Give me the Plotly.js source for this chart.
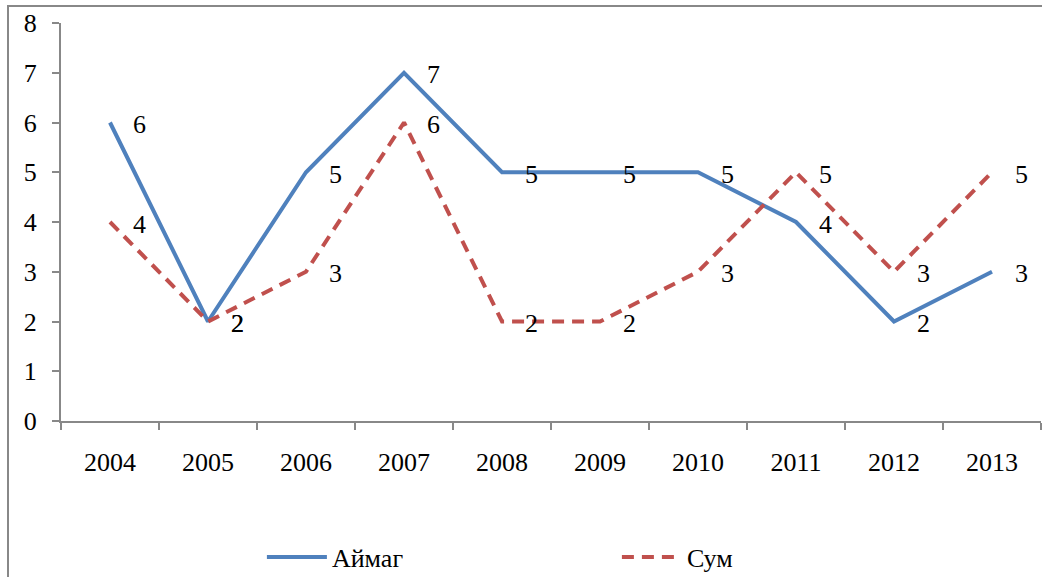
<!DOCTYPE html>
<html>
<head>
<meta charset="utf-8">
<script src="https://cdn.plot.ly/plotly-3.0.1.min.js"></script>
<style>
html,body{margin:0;padding:0;background:#fff;overflow:hidden;}
#wrap{position:relative;width:1042px;height:577px;}
#chart{position:absolute;left:0;top:0;width:1042px;height:577px;}
#frame{position:absolute;left:7px;top:5px;width:1100px;height:700px;border:2px solid #888;pointer-events:none;box-sizing:border-box;}
</style>
</head>
<body>
<div id="wrap"><div id="chart"></div><div id="frame"></div></div>
<script>
const years = ['2004','2005','2006','2007','2008','2009','2010','2011','2012','2013'];
const aimag = [6,2,5,7,5,5,5,4,2,3];
const sum = [4,2,3,6,2,2,3,5,3,5];
const yTicks = [0,1,2,3,4,5,6,7,8];

const FONT = '"Liberation Serif", "Times New Roman", serif';
const FS = 26;
const traces = [
  {x: years, y: aimag, name: 'Аймаг', mode: 'lines', type: 'scatter',
   line: {color: '#4F81BD', width: 4}},
  {x: years, y: sum, name: 'Сум', mode: 'lines', type: 'scatter',
   line: {color: '#C0504D', width: 4, dash: '12px,8px'}}
];
const annotations = [];
[aimag, sum].forEach(series => {
  series.forEach((v, i) => {
    annotations.push({x: i, y: v, xref: 'x', yref: 'y', text: String(v), showarrow: false,
      xshift: 29, yshift: -2, font: {family: FONT, size: FS, color: '#000'}});
  });
});

const layout = {
  width: 1042, height: 577,
  margin: {l: 61, r: 1, t: 23, b: 156, autoexpand: false},
  paper_bgcolor: '#fff', plot_bgcolor: '#fff',
  font: {family: FONT, size: FS, color: '#000'},
  showlegend: true,
  legend: {orientation: 'h', x: 0.205, xanchor: 'left', y: -0.342, yanchor: 'middle',
    itemwidth: 60, entrywidth: 280, entrywidthmode: 'pixels',
    font: {family: FONT, size: FS, color: '#000'},
    bgcolor: 'rgba(0,0,0,0)'},
  xaxis: {type: 'category', range: [-0.5, 9.5], tickson: 'boundaries',
    showline: true, linecolor: '#888', linewidth: 2, ticks: 'outside', ticklen: 7,
    tickcolor: '#888', tickwidth: 2, showgrid: false, zeroline: false,
    ticklabelstandoff: 17, tickfont: {family: FONT, size: FS}},
  yaxis: {range: [0, 8], tickvals: yTicks, ticktext: yTicks.map(String),
    showline: true, linecolor: '#888', linewidth: 2, ticks: 'outside', ticklen: 7,
    tickcolor: '#888', tickwidth: 2, showgrid: false, zeroline: false,
    ticklabelstandoff: 10, tickfont: {family: FONT, size: FS}},
  annotations: annotations
};
Plotly.newPlot('chart', traces, layout, {staticPlot: true, displayModeBar: false});
</script>
</body>
</html>
